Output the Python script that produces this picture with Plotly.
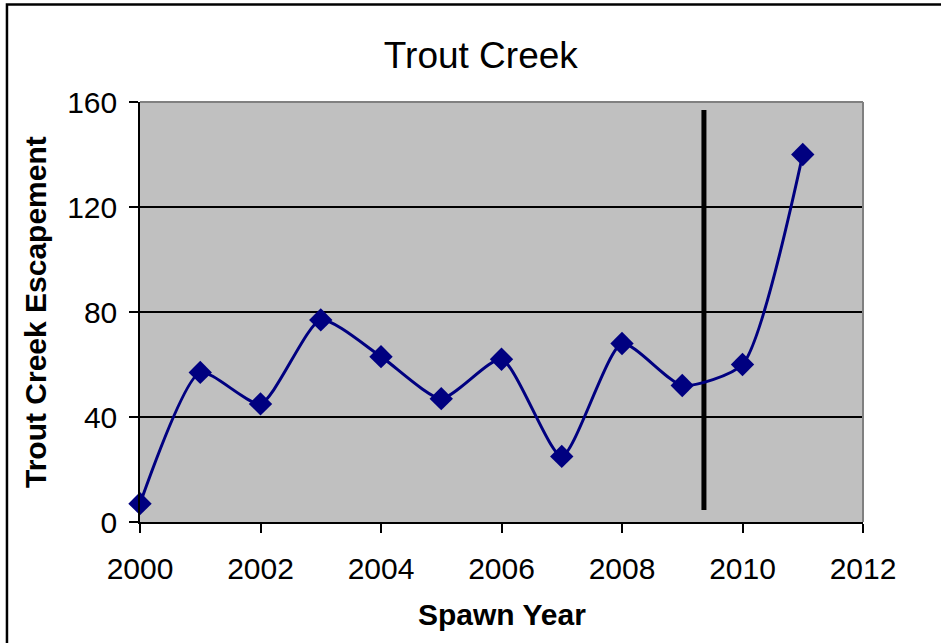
"""Trout Creek escapement by spawn year."""

import plotly.graph_objects as go

# data
spawn_years = [2000, 2001, 2002, 2003, 2004, 2005, 2006, 2007, 2008, 2009, 2010, 2011]
escapement = [7, 57, 45, 77, 63, 47, 62, 25, 68, 52, 60, 140]

# vertical reference marker
cutoff_x = [2009.36, 2009.36]
cutoff_y = [4.6, 157]

x_ticks = [2000, 2002, 2004, 2006, 2008, 2010, 2012]
y_ticks = [0, 40, 80, 120, 160]

FONT = "Liberation Sans, Arial, sans-serif"

fig = go.Figure()

fig.add_trace(go.Scatter(
    x=cutoff_x,
    y=cutoff_y,
    mode='lines',
    line=dict(color='black', width=5),
    showlegend=False,
    hoverinfo='skip'
))

fig.add_trace(go.Scatter(
    x=spawn_years,
    y=escapement,
    mode='lines+markers',
    line=dict(color='#000080', width=3, shape='spline', smoothing=0.6),
    marker=dict(symbol='diamond', size=18, color='#000080'),
    showlegend=False,
    cliponaxis=False
))

fig.update_layout(
    width=941,
    height=643,
    margin=dict(l=140, r=78, t=102, b=121),
    paper_bgcolor='white',
    plot_bgcolor='#C0C0C0',
    font=dict(family=FONT, color='black', size=30),
    title=dict(
        text='Trout Creek',
        font=dict(family=FONT, size=37, color='black'),
        x=0.511, xanchor='center',
        y=1 - 55 / 643, yanchor='middle'
    ),
    xaxis=dict(
        range=[2000, 2012],
        tickvals=x_ticks,
        ticks='outside', ticklen=9, tickwidth=1.5, tickcolor='black',
        ticklabelstandoff=10,
        showgrid=False, zeroline=False,
        showline=True, linecolor='black', linewidth=1.5,
        tickfont=dict(size=30),
    ),
    yaxis=dict(
        range=[0, 160],
        tickvals=y_ticks,
        ticks='outside', ticklen=9, tickwidth=1.5, tickcolor='black',
        ticklabelstandoff=6,
        showgrid=True, gridcolor='black', gridwidth=1.5,
        zeroline=False,
        showline=True, linecolor='black', linewidth=1.5,
        tickfont=dict(size=30),
    ),
    annotations=[
        dict(text='<b>Spawn Year</b>', xref='paper', yref='paper',
             x=0.5, y=-0.2214, xanchor='center', yanchor='middle',
             showarrow=False, font=dict(size=30)),
        dict(text='<b>Trout Creek Escapement</b>', xref='paper', yref='paper',
             x=-0.1452, y=0.5, xanchor='center', yanchor='middle',
             textangle=-90, showarrow=False, font=dict(size=30)),
    ],
    shapes=[
        # gray frame on top and right of plot area
        dict(type='line', xref='paper', yref='paper', x0=0, x1=1, y0=1, y1=1,
             line=dict(color='#808080', width=2)),
        dict(type='line', xref='paper', yref='paper', x0=1, x1=1, y0=0, y1=1,
             line=dict(color='#808080', width=2)),
        # outer chart border (right and bottom run off the image)
        dict(type='rect', xref='paper', yref='paper',
             x0=-0.184, x1=1.15, y0=-0.32, y1=1.232,
             line=dict(color='black', width=2.5), layer='below'),
    ]
)

fig.write_html(
    "out.html",
    config={'displayModeBar': False},
    post_script="document.body.style.margin='0';"
)
